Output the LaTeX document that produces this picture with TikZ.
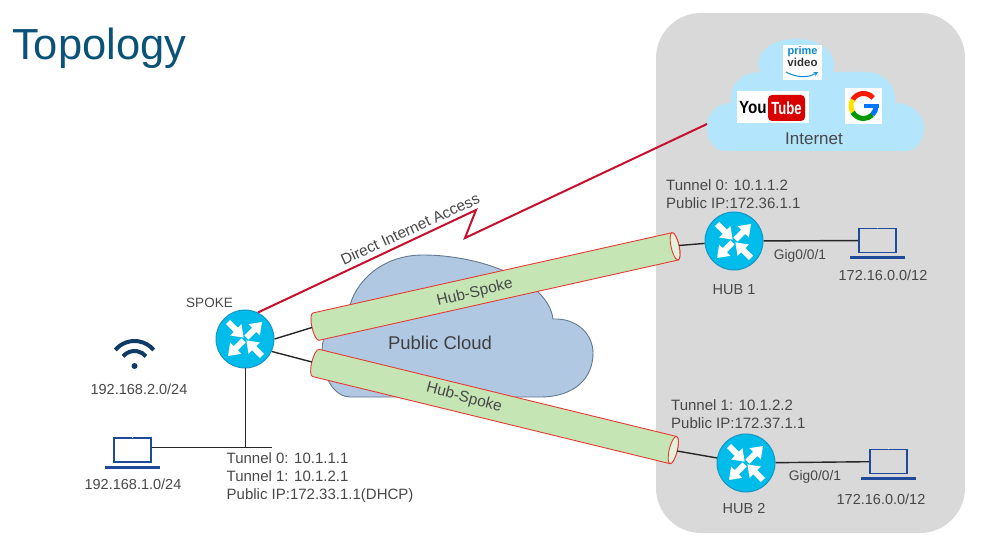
\documentclass[tikz,border=0pt]{standalone}
\usepackage{xcolor}
\usepackage{fontspec}
\setmainfont{Liberation Sans}
\usetikzlibrary{shapes,positioning,calc}

\definecolor{panelgray}{HTML}{D9D9D9}
\definecolor{titleblue}{HTML}{0A5278}
\definecolor{textgray}{HTML}{484848}
\definecolor{routerblue}{HTML}{00BCEB}
\definecolor{routeredge}{HTML}{1496C4}
\definecolor{laptopblue}{HTML}{1F4A9A}
\definecolor{wifiblue}{HTML}{0D3B66}
\definecolor{skyblue}{HTML}{B3E5FC}
\definecolor{cloudblue}{HTML}{B0C8E2}
\definecolor{cloudedge}{HTML}{66788C}
\definecolor{tubegreen}{HTML}{C5E5B5}
\definecolor{tubeend}{HTML}{E4F1DC}
\definecolor{tubered}{HTML}{E83A30}
\definecolor{dialred}{HTML}{C8102E}

\newcommand{\routerglyph}[1]{%
    \foreach \ang in {45,225} {\pic[rotate=\ang] at ($(#1)+(\ang:2pt)$) {routerarrow};}
    \foreach \ang in {135,315} {\pic[rotate=\ang+180] at ($(#1)+(\ang:24pt)$) {routerarrow};}
}
\newcommand{\laptopbase}[1]{%
    \fill[laptopblue] ($(#1.south west)+(-8,3)$) rectangle ($(#1.south east)+(8,6)$);
    \fill[white] (#1.north) circle (0.7pt);
}

\begin{document}
\begin{tikzpicture}[
    x=1pt, y=-1pt,
    routerarrow/.pic={\fill[white] (0,-3) -- (11,-3) -- (11,-8) -- (22,0) -- (11,8) -- (11,3) -- (0,3) -- cycle;},
    tunnel/.pic={
        \filldraw[fill=tubegreen, draw=tubered, line width=0.9pt] (184,-14) -- (-184,-14)
            arc[start angle=90, end angle=270, x radius=4pt, y radius=14pt] -- (184,14)
            arc[start angle=-90, end angle=90, x radius=4pt, y radius=14pt] -- cycle;
        \filldraw[fill=tubeend, draw=tubered, line width=0.9pt] (184,0) circle[x radius=4pt, y radius=14pt];
        \coordinate (-start) at (-188,0);
        \coordinate (-end) at (188,0);
    },
    router/.style={circle, draw=routeredge, fill=routerblue, line width=1pt, minimum size=58pt, inner sep=0pt},
    laptop/.style={rectangle, draw=laptopblue, line width=1.8pt, minimum width=37pt, minimum height=24pt, inner sep=0pt},
    lbl/.style={text=textgray, inner sep=0pt, font=\fontsize{14.5}{16}\selectfont},
    small/.style={text=textgray, inner sep=0pt, font=\fontsize{13.8}{15}\selectfont},
    info/.style={text=textgray, inner sep=0pt, anchor=west, align=left, font=\fontsize{15}{18}\selectfont},
    link/.style={draw=black!85, line width=1.4pt},
    thinlink/.style={draw=black!85, line width=0.9pt},
    dial/.style={draw=dialred, line width=2pt, line join=miter},
    logobox/.style={rectangle, fill=white, inner sep=0pt}
]
    \useasboundingbox (0,0) rectangle (999,545);

    % Title and hub panel
    \node[text=titleblue, inner sep=0pt, anchor=base west, font=\fontsize{43.5}{46}\selectfont] (title) at (12,60) {Topology};
    \node[rectangle, fill=panelgray, rounded corners=45pt, minimum width=309pt, minimum height=520pt, inner sep=0pt] (panel) at (810.5,273) {};

    % Clouds
    \fill[skyblue] (725,151) -- (905,151) .. controls (917,151) and (924,140) .. (924,128)
        .. controls (924,114) and (912,103) .. (895,103) .. controls (896,85) and (885,72) .. (866,72)
        -- (833,72) .. controls (838,52) and (820,39) .. (797,39) .. controls (775,39) and (752,50) .. (760,72)
        .. controls (742,72) and (728,85) .. (731,103) .. controls (717,103) and (707,113) .. (707,128)
        .. controls (707,141) and (715,151) .. (725,151) -- cycle;
    \filldraw[fill=cloudblue, draw=cloudedge, line width=0.9pt] (350,397) -- (540,397)
        .. controls (575,397) and (593,378) .. (593,353) .. controls (593,335) and (578,318) .. (553,319)
        .. controls (548,280) and (480,255) .. (423,255) .. controls (385,255) and (358,278) .. (350,305)
        .. controls (335,315) and (322,330) .. (322,352) .. controls (322,378) and (335,397) .. (350,397) -- cycle;
    \node[text=textgray, inner sep=0pt, font=\fontsize{17}{19}\selectfont] (internet) at (814,139) {Internet};
    \node[text=black!75, inner sep=0pt, font=\fontsize{18.5}{20}\selectfont] (publiccloud) at (440,343) {Public Cloud};

    % Internet logos
    \node[logobox, minimum width=39pt, minimum height=35pt] (primebox) at (802.5,62.5) {};
    \node[inner sep=0pt, text=cyan!70!blue, font=\bfseries\fontsize{11}{12}\selectfont] (primetxt) at (802.5,52) {prime};
    \node[inner sep=0pt, text=black!80, font=\bfseries\fontsize{11.5}{12}\selectfont, below=0.5pt of primetxt] (videotxt) {video};
    \draw[cyan!70!blue, line width=1pt, ->, >=stealth] (786,72) .. controls (797,78) and (808,78) .. (818,72);
    \node[logobox, minimum width=72pt, minimum height=32pt] (youtubebox) at (773,107) {};
    \node[rectangle, fill=red!85!black, rounded corners=4pt, minimum width=37pt, minimum height=26pt, inner sep=0pt] (tubebadge) at (786.5,108) {};
    \node[inner sep=0pt, font=\bfseries\fontsize{16}{18}\selectfont, left=1pt of tubebadge] (youtxt) {\scalebox{0.95}[1.1]{You}};
    \node[inner sep=0pt, text=white, font=\bfseries\fontsize{16}{18}\selectfont] (tubetxt) at (tubebadge) {\scalebox{0.82}[1.1]{Tube}};
    \node[logobox, minimum width=37pt, minimum height=36pt] (googlebox) at (863.5,106) {};
    \draw[red!80!orange, line width=5pt] ([shift={(40:12.5pt)}]googlebox.center) arc[start angle=40, end angle=150, radius=12.5pt];
    \draw[yellow!85!orange, line width=5pt] ([shift={(150:12.5pt)}]googlebox.center) arc[start angle=150, end angle=210, radius=12.5pt];
    \draw[green!60!black, line width=5pt] ([shift={(210:12.5pt)}]googlebox.center) arc[start angle=210, end angle=315, radius=12.5pt];
    \draw[blue!55!cyan, line width=5pt] ([shift={(315:12.5pt)}]googlebox.center) arc[start angle=315, end angle=360, radius=12.5pt];
    \fill[blue!55!cyan] ($(googlebox.center)+(0.5,-2)$) rectangle ($(googlebox.center)+(15,2.5)$);

    % Routers
    \node[router] (spoke) at (245,339) {};
    \node[router] (hubone) at (734,241) {};
    \node[router] (hubtwo) at (746,463) {};

    % Laptops
    \node[laptop] (lapspoke) at (132.5,450) {};
    \node[laptop] (laphubone) at (877.5,240.5) {};
    \node[laptop] (laphubtwo) at (888.5,461.5) {};
    \coordinate (busend) at (272,447);

    % Tunnels
    \pic[rotate=12.6] (tubeone) at (495.5,286.5) {tunnel};
    \pic[rotate=-13.7] (tubetwo) at (494.5,406.5) {tunnel};

    % Links
    \draw[link] (spoke.east) -- (tubeone-start);
    \draw[link] (spoke.-25) -- (tubetwo-start);
    \draw[link] (tubeone-end) -- (hubone);
    \draw[link] (tubetwo-end) -- (hubtwo);
    \draw[link] (hubone) -- (laphubone);
    \draw[link] (hubtwo) -- (laphubtwo);
    \draw[thinlink] (spoke) -- (spoke |- busend);
    \draw[thinlink] (lapspoke.east |- busend) -- (busend);

    % Direct access path
    \coordinate (dialtop) at (476,210);
    \coordinate (dialbottom) at (465,238);
    \coordinate (inetedge) at (707,124);
    \draw[dial] (spoke.64) -- (dialtop) -- (dialbottom) -- (inetedge);

    % Glyphs on top
    \routerglyph{spoke}
    \routerglyph{hubone}
    \routerglyph{hubtwo}
    \laptopbase{lapspoke}
    \laptopbase{laphubone}
    \laptopbase{laphubtwo}

    % Wifi
    \draw[wifiblue, line width=4pt] ([shift={(140:25pt)}]134.5,366) arc[start angle=140, end angle=40, radius=25pt];
    \draw[wifiblue, line width=4pt] ([shift={(140:15pt)}]134.5,366) arc[start angle=140, end angle=40, radius=15pt];
    \fill[wifiblue] (134.5,366) circle (3pt);

    % Labels
    \node[lbl, rotate=24.6, font=\fontsize{15.4}{17}\selectfont] (dialtxt) at (410,229) {Direct Internet Access};
    \node[lbl, rotate=13.5, font=\fontsize{15.5}{17}\selectfont] (tubeonetxt) at (475,293) {Hub-Spoke};
    \node[lbl, rotate=-15, font=\fontsize{15.5}{17}\selectfont] (tubetwotxt) at (464,398) {Hub-Spoke};
    \node[lbl, font=\fontsize{13.5}{16}\selectfont] (spoketxt) at (209.5,303) {SPOKE};
    \node[lbl] (wifitxt) at (139,389) {192.168.2.0/24};
    \node[lbl] (lapspoketxt) at (133,484) {192.168.1.0/24};
    \node[info] (spokeinfo) at (226.5,478) {Tunnel 0: 10.1.1.1\\Tunnel 1: 10.1.2.1\\Public IP:172.33.1.1(DHCP)};
    \node[info] (huboneinfo) at (666,194) {Tunnel 0: 10.1.1.2\\Public IP:172.36.1.1};
    \node[info] (hubtwoinfo) at (671,414) {Tunnel 1: 10.1.2.2\\Public IP:172.37.1.1};
    \node[lbl, below=14pt of hubone] (hubonetxt) {HUB 1};
    \node[lbl] (hubtwotxt) at (744,509) {HUB 2};
    \node[small] (gigone) at (800,256) {Gig0/0/1};
    \node[small] (gigtwo) at (815,477) {Gig0/0/1};
    \node[lbl] (laphubonetxt) at (883,275) {172.16.0.0/12};
    \node[lbl] (laphubtwotxt) at (881,499) {172.16.0.0/12};
\end{tikzpicture}
\end{document}
